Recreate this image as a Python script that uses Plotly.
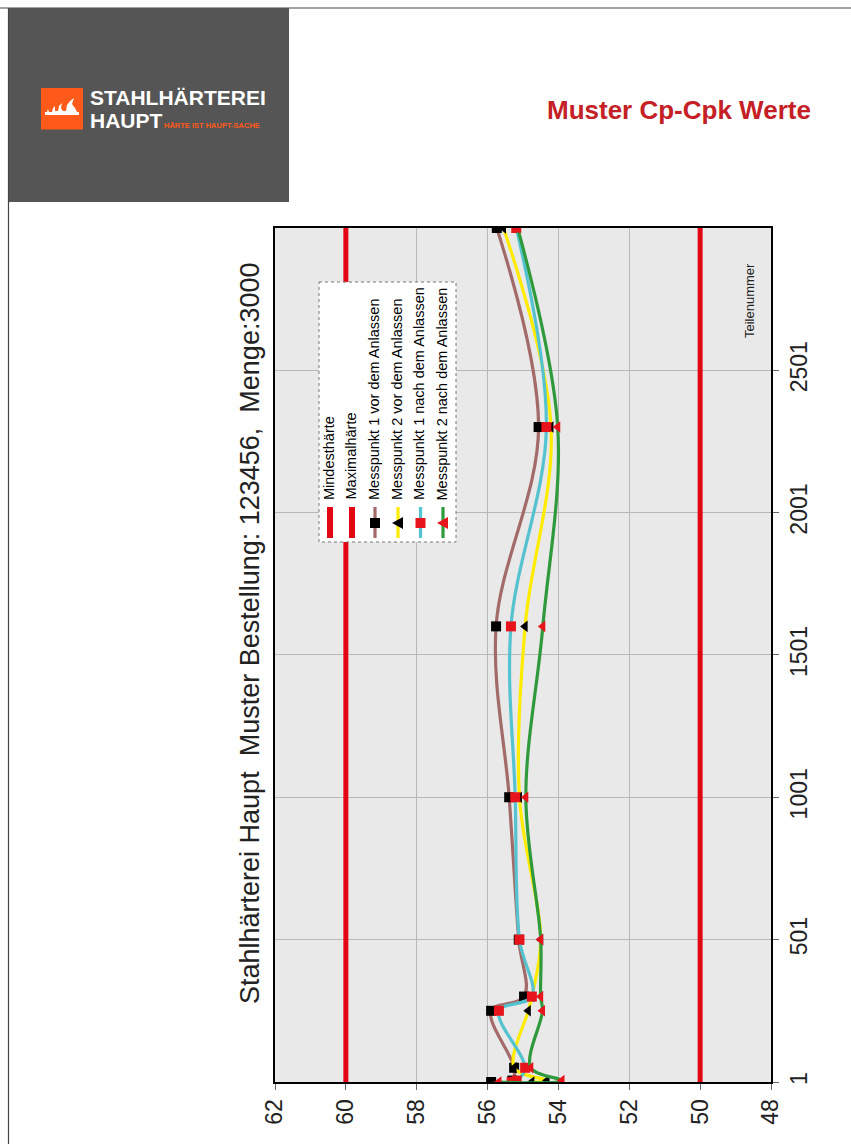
import plotly.graph_objects as go

# ---------------- data ----------------
teilenummer = [1, 6, 51, 251, 301, 501, 1001, 1601, 2301, 3000]
mp1_vor = [55.9, 55.3, 55.25, 55.9, 54.97, 55.12, 55.39, 55.76, 54.56, 55.74]
mp2_vor = [54.75, 54.32, 55.25, 54.85, 54.75, 54.5, 55.1, 54.94, 54.21, 55.55]
mp1_nach = [55.32, 55.18, 54.94, 55.68, 54.75, 55.1, 55.22, 55.34, 54.34, 55.19]
mp2_nach = [55.68, 53.9, 54.78, 54.45, 54.5, 54.5, 54.92, 54.44, 54.02, 55.15]
mindesthaerte = 50
maximalhaerte = 60
haerte_ticks = [62, 60, 58, 56, 54, 52, 50, 48]
teil_ticks = [1, 501, 1001, 1501, 2001, 2501]
series_names = ["Messpunkt 1 vor dem Anlassen", "Messpunkt 2 vor dem Anlassen",
                "Messpunkt 1 nach dem Anlassen", "Messpunkt 2 nach dem Anlassen"]
limit_names = ["Mindesthärte", "Maximalhärte"]

W, H = 851, 1144
FONT = "Liberation Sans, Arial, sans-serif"
RED = "#e30613"
MRED = "#e8141c"
line_colors = ["#a26a68", "#ffec00", "#55c3cf", "#2e9a3c"]
marker_colors = ["black", "black", MRED, MRED]
marker_symbols = ["square", "triangle-left", "square", "triangle-left"]


def px(x):
    return x / W


def py(y):
    return 1 - y / H


fig = go.Figure()
t_min, t_max = teilenummer[0], teilenummer[-1]
for val, name in zip([mindesthaerte, maximalhaerte], limit_names):
    fig.add_trace(go.Scatter(x=[val, val], y=[t_min, t_max], mode="lines",
                             line=dict(color=RED, width=5), name=name,
                             hoverinfo="skip"))

for vals, name, lc, mc, ms in zip([mp1_vor, mp2_vor, mp1_nach, mp2_nach], series_names,
                                  line_colors, marker_colors, marker_symbols):
    fig.add_trace(go.Scatter(x=vals, y=teilenummer, mode="lines+markers", name=name,
                             line=dict(color=lc, width=3.2, shape="spline", smoothing=1.0),
                             marker=dict(color=mc, symbol=ms, size=10, line=dict(width=0))))

shapes = []
annotations = []

# header: frame lines and grey box
shapes.append(dict(type="line", xref="paper", yref="paper", x0=px(0), x1=px(W), y0=py(8), y1=py(8),
                   line=dict(color="#444444", width=1.2)))
shapes.append(dict(type="line", xref="paper", yref="paper", x0=px(8.5), x1=px(8.5), y0=py(8), y1=py(H),
                   line=dict(color="#444444", width=1.2)))
shapes.append(dict(type="rect", xref="paper", yref="paper", x0=px(9), x1=px(289), y0=py(8), y1=py(202),
                   fillcolor="#555555", line=dict(width=0)))
# logo
shapes.append(dict(type="rect", xref="paper", yref="paper", x0=px(41), x1=px(83), y0=py(88), y1=py(129.5),
                   fillcolor="#ff5a19", line=dict(width=0)))
flame = [(45, 115), (45, 112), (47, 112), (48, 109), (49, 112), (52, 112), (53, 108), (55, 106),
         (55, 111), (58, 111), (59, 106), (62, 103), (61, 108), (63, 111), (66, 111), (67, 105),
         (70, 101), (74, 98), (72, 104), (75, 108), (77, 112), (79, 112), (79, 115)]
path = "M " + " L ".join(f"{px(a):.5f},{py(b):.5f}" for a, b in flame) + " Z"
shapes.append(dict(type="path", xref="paper", yref="paper", path=path,
                   fillcolor="white", line=dict(width=0)))
annotations.append(dict(xref="paper", yref="paper", x=px(88), y=py(98), xanchor="left", yanchor="middle",
                        text="<b>STAHLHÄRTEREI</b>", showarrow=False,
                        font=dict(family=FONT, size=21, color="white")))
annotations.append(dict(xref="paper", yref="paper", x=px(88), y=py(120), xanchor="left", yanchor="middle",
                        text="<b>HAUPT</b>", showarrow=False,
                        font=dict(family=FONT, size=21, color="white")))
annotations.append(dict(xref="paper", yref="paper", x=px(162), y=py(125), xanchor="left", yanchor="middle",
                        text="<b>HÄRTE IST HAUPT-SACHE</b>", showarrow=False,
                        font=dict(family=FONT, size=7.5, color="#ff5a19")))
annotations.append(dict(xref="paper", yref="paper", x=px(813), y=py(110), xanchor="right", yanchor="middle",
                        text="<b>Muster Cp-Cpk Werte</b>", showarrow=False,
                        font=dict(family=FONT, size=26, color="#c42026")))

# chart title (rotated)
annotations.append(dict(xref="paper", yref="paper", x=px(250), y=py(634), xanchor="center", yanchor="middle",
                        text="Stahlhärterei Haupt  Muster Bestellung: 123456,  Menge:3000", textangle=-90,
                        showarrow=False, font=dict(family=FONT, size=27, color="#222222")))
# axis title inside plot
annotations.append(dict(xref="paper", yref="paper", x=px(749), y=py(301), xanchor="center", yanchor="middle",
                        text="Teilenummer", textangle=-90, showarrow=False,
                        font=dict(family=FONT, size=13, color="#222222")))

# manual rotated legend
lx0, lx1, ly0, ly1 = 319, 456, 282, 542
shapes.append(dict(type="rect", xref="paper", yref="paper", x0=px(lx0), x1=px(lx1), y0=py(ly0), y1=py(ly1),
                   fillcolor="white", line=dict(color="#777777", width=1, dash="dot"), layer="above"))
cols = [330, 352, 375, 398, 420.5, 443]
entry_names = limit_names + series_names
entry_lc = [RED, RED] + line_colors
for i, (cx, nm, lc) in enumerate(zip(cols, entry_names, entry_lc)):
    w = 6 if i < 2 else 3.2
    shapes.append(dict(type="line", xref="paper", yref="paper", x0=px(cx), x1=px(cx), y0=py(507), y1=py(538),
                       line=dict(color=lc, width=w), layer="above"))
    if i >= 2:
        k = i - 2
        mc = marker_colors[k]
        if marker_symbols[k] == "square":
            shapes.append(dict(type="rect", xref="paper", yref="paper", x0=px(cx - 5), x1=px(cx + 5),
                               y0=py(518), y1=py(528), fillcolor=mc, line=dict(width=0), layer="above"))
        else:
            tri = f"M {px(cx - 6):.5f},{py(523):.5f} L {px(cx + 5):.5f},{py(517):.5f} L {px(cx + 5):.5f},{py(529):.5f} Z"
            shapes.append(dict(type="path", xref="paper", yref="paper", path=tri,
                               fillcolor=mc, line=dict(width=0), layer="above"))
    annotations.append(dict(xref="paper", yref="paper", x=px(cx - 1), y=py(502), xanchor="center",
                            yanchor="bottom", text=nm, textangle=-90, showarrow=False,
                            font=dict(family=FONT, size=14.5, color="black")))

fig.update_layout(
    width=W, height=H, autosize=False, margin=dict(l=0, r=0, t=0, b=0, pad=0),
    paper_bgcolor="white", plot_bgcolor="#e9e9e9", showlegend=False,
    shapes=shapes, annotations=annotations,
    xaxis=dict(domain=[px(275), px(771)], range=[62, 48], tickvals=haerte_ticks,
               ticktext=[str(v) for v in haerte_ticks], tickangle=-90, ticks="outside", ticklen=6,
               tickcolor="#666666", showgrid=True, gridcolor="#b8b8b8", gridwidth=1,
               showline=True, linecolor="black", linewidth=2, mirror=True, zeroline=False,
               automargin=False, tickfont=dict(family=FONT, size=23, color="#222222")),
    yaxis=dict(domain=[py(1082), py(228)], range=[t_min, t_max], side="right", tickvals=teil_ticks,
               ticktext=[str(v) for v in teil_ticks], tickangle=-90, ticks="outside", ticklen=6,
               tickcolor="#666666", showgrid=True, gridcolor="#b8b8b8", gridwidth=1,
               showline=True, linecolor="black", linewidth=2, mirror=True, zeroline=False,
               automargin=False, tickfont=dict(family=FONT, size=23, color="#222222")),
)

fig.write_html("out.html", config={"responsive": False, "displayModeBar": False},
               post_script="document.body.style.margin='0';document.body.style.overflow='hidden';")
